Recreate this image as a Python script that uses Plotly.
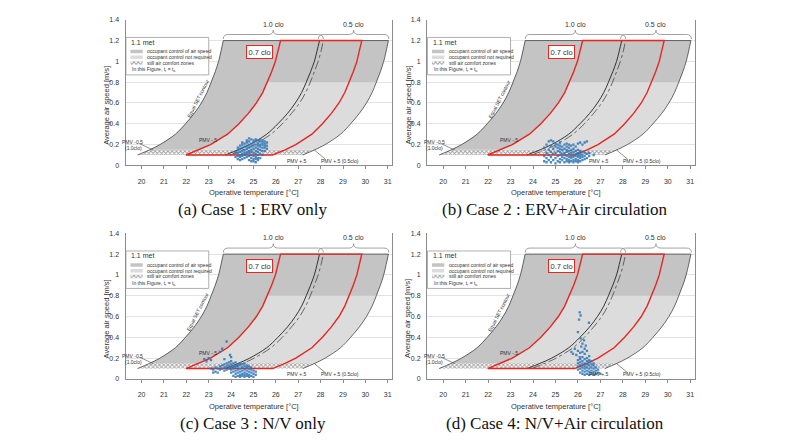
import plotly.graph_objects as go

# air speed levels (m/s) at which the comfort-zone boundaries were read
speed_levels = [0.1, 0.15, 0.2, 0.3, 0.4, 0.5, 0.6, 0.7, 0.8, 0.9, 1.0, 1.1, 1.2]

# operative temperature (C) of each boundary at those speeds
pmv_minus_05_1clo = [19.82, 20.36, 20.82, 21.51, 21.96, 22.35, 22.67, 22.92, 23.11, 23.29, 23.44, 23.55, 23.65]
clo07_lower = [21.98, 22.57, 23.08, 23.84, 24.35, 24.77, 25.13, 25.41, 25.62, 25.81, 25.98, 26.10, 26.21]
pmv_plus_05_1clo = [23.73, 24.32, 24.83, 25.59, 26.09, 26.52, 26.87, 27.15, 27.36, 27.55, 27.72, 27.84, 27.95]
pmv_plus_05_1clo_b = [23.95, 24.53, 25.03, 25.78, 26.29, 26.70, 27.06, 27.33, 27.54, 27.72, 27.89, 28.02, 28.12]
clo07_upper = [25.85, 26.41, 26.89, 27.61, 28.08, 28.48, 28.82, 29.08, 29.28, 29.46, 29.62, 29.74, 29.84]
pmv_plus_05_05clo = [27.20, 27.74, 28.20, 28.89, 29.34, 29.73, 30.05, 30.30, 30.49, 30.67, 30.82, 30.93, 31.03]

still_air_limit = 0.15
control_limit = 0.8

clo_names = ["1.0 clo", "0.5 clo"]
clo_starts = [23.65, 27.90]
clo_ends = [28.12, 31.05]

temp_ticks = list(range(20, 32))

case1_points = [
    (24.2, 0.08), (24.2, 0.11), (24.2, 0.13),
    (24.3, 0.06), (24.3, 0.09), (24.3, 0.12), (24.3, 0.15), (24.3, 0.17),
    (24.4, 0.05), (24.4, 0.08), (24.4, 0.10), (24.4, 0.13), (24.4, 0.16), (24.4, 0.19),
    (24.5, 0.06), (24.5, 0.09), (24.5, 0.11), (24.5, 0.14), (24.5, 0.17), (24.5, 0.20), (24.5, 0.22),
    (24.6, 0.07), (24.6, 0.10), (24.6, 0.12), (24.6, 0.15), (24.6, 0.18), (24.6, 0.21),
    (24.7, 0.08), (24.7, 0.11), (24.7, 0.13), (24.7, 0.16), (24.7, 0.19), (24.7, 0.22), (24.7, 0.24),
    (24.8, 0.05), (24.8, 0.09), (24.8, 0.12), (24.8, 0.14), (24.8, 0.17), (24.8, 0.20), (24.8, 0.23), (24.8, 0.26),
    (24.9, 0.04), (24.9, 0.07), (24.9, 0.10), (24.9, 0.13), (24.9, 0.15), (24.9, 0.18), (24.9, 0.21), (24.9, 0.25),
    (25.0, 0.04), (25.0, 0.06), (25.0, 0.09), (25.0, 0.12), (25.0, 0.16), (25.0, 0.19), (25.0, 0.22), (25.0, 0.24),
    (25.1, 0.03), (25.1, 0.06), (25.1, 0.08), (25.1, 0.11), (25.1, 0.14), (25.1, 0.17), (25.1, 0.20), (25.1, 0.23), (25.1, 0.25),
    (25.2, 0.05), (25.2, 0.07), (25.2, 0.10), (25.2, 0.13), (25.2, 0.16), (25.2, 0.19), (25.2, 0.21), (25.2, 0.24),
    (25.3, 0.07), (25.3, 0.11), (25.3, 0.15), (25.3, 0.18), (25.3, 0.20), (25.3, 0.23), (25.3, 0.25),
    (25.4, 0.10), (25.4, 0.14), (25.4, 0.17), (25.4, 0.20), (25.4, 0.22), (25.4, 0.24),
    (25.5, 0.14), (25.5, 0.17), (25.5, 0.19), (25.5, 0.21), (25.5, 0.23),
    (25.6, 0.16), (25.6, 0.19), (25.6, 0.22),
]

case2_points = [
    (24.5, 0.04), (24.5, 0.09), (24.5, 0.17),
    (24.6, 0.03), (24.6, 0.07), (24.6, 0.12), (24.6, 0.20),
    (24.7, 0.05), (24.7, 0.10), (24.7, 0.15), (24.7, 0.23),
    (24.8, 0.03), (24.8, 0.08), (24.8, 0.13), (24.8, 0.19), (24.8, 0.24),
    (24.9, 0.05), (24.9, 0.11), (24.9, 0.16), (24.9, 0.23),
    (25.0, 0.02), (25.0, 0.07), (25.0, 0.12), (25.0, 0.18), (25.0, 0.21),
    (25.1, 0.04), (25.1, 0.09), (25.1, 0.14), (25.1, 0.17), (25.1, 0.20),
    (25.2, 0.03), (25.2, 0.06), (25.2, 0.10), (25.2, 0.13), (25.2, 0.16), (25.2, 0.19), (25.2, 0.22),
    (25.3, 0.05), (25.3, 0.08), (25.3, 0.11), (25.3, 0.15), (25.3, 0.18),
    (25.4, 0.03), (25.4, 0.07), (25.4, 0.10), (25.4, 0.12), (25.4, 0.16), (25.4, 0.20),
    (25.5, 0.04), (25.5, 0.06), (25.5, 0.09), (25.5, 0.13), (25.5, 0.15), (25.5, 0.18), (25.5, 0.21),
    (25.6, 0.03), (25.6, 0.05), (25.6, 0.08), (25.6, 0.11), (25.6, 0.14), (25.6, 0.17), (25.6, 0.20),
    (25.7, 0.04), (25.7, 0.07), (25.7, 0.09), (25.7, 0.12), (25.7, 0.15), (25.7, 0.19),
    (25.8, 0.03), (25.8, 0.05), (25.8, 0.08), (25.8, 0.10), (25.8, 0.13), (25.8, 0.16), (25.8, 0.20),
    (25.9, 0.04), (25.9, 0.06), (25.9, 0.09), (25.9, 0.11), (25.9, 0.14), (25.9, 0.18),
    (26.0, 0.03), (26.0, 0.05), (26.0, 0.08), (26.0, 0.10), (26.0, 0.12), (26.0, 0.15), (26.0, 0.21),
    (26.1, 0.04), (26.1, 0.07), (26.1, 0.09), (26.1, 0.11), (26.1, 0.14), (26.1, 0.22),
    (26.2, 0.05), (26.2, 0.08), (26.2, 0.10), (26.2, 0.13), (26.2, 0.20),
    (26.3, 0.06), (26.3, 0.09), (26.3, 0.12), (26.3, 0.22),
    (26.4, 0.07), (26.4, 0.11), (26.4, 0.23),
    (26.5, 0.09), (26.5, 0.12),
    (26.7, 0.10),
]

case3_points = [
    (22.8, 0.19), (22.9, 0.17), (23.0, 0.20), (23.1, 0.18),
    (23.5, 0.26), (23.6, 0.29), (23.8, 0.36), (23.7, 0.19), (23.95, 0.23), (24.0, 0.21),
    (23.1, 0.10), (23.2, 0.09), (23.2, 0.06), (23.3, 0.11), (23.3, 0.07), (23.4, 0.10), (23.4, 0.06),
    (23.5, 0.09), (23.5, 0.12), (23.6, 0.10), (23.6, 0.13),
    (23.7, 0.08), (23.7, 0.11), (23.7, 0.14),
    (23.8, 0.09), (23.8, 0.12), (23.8, 0.15),
    (23.9, 0.10), (23.9, 0.13), (23.9, 0.16),
    (24.0, 0.06), (24.0, 0.09), (24.0, 0.11), (24.0, 0.14), (24.0, 0.17),
    (24.1, 0.03), (24.1, 0.07), (24.1, 0.10), (24.1, 0.12), (24.1, 0.15),
    (24.2, 0.02), (24.2, 0.05), (24.2, 0.08), (24.2, 0.11), (24.2, 0.13), (24.2, 0.16),
    (24.3, 0.03), (24.3, 0.06), (24.3, 0.09), (24.3, 0.12), (24.3, 0.14),
    (24.4, 0.02), (24.4, 0.04), (24.4, 0.07), (24.4, 0.10), (24.4, 0.13), (24.4, 0.15),
    (24.5, 0.03), (24.5, 0.05), (24.5, 0.08), (24.5, 0.11), (24.5, 0.14),
    (24.6, 0.02), (24.6, 0.04), (24.6, 0.06), (24.6, 0.09), (24.6, 0.12), (24.6, 0.15),
    (24.7, 0.03), (24.7, 0.05), (24.7, 0.08), (24.7, 0.11), (24.7, 0.13),
    (24.8, 0.02), (24.8, 0.04), (24.8, 0.07), (24.8, 0.10), (24.8, 0.12),
    (24.9, 0.03), (24.9, 0.06), (24.9, 0.09), (24.9, 0.11),
    (25.0, 0.02), (25.0, 0.05), (25.0, 0.08),
    (25.1, 0.04), (25.1, 0.07),
]

case4_points = [
    (26.08, 0.64), (26.12, 0.61), (26.05, 0.57), (26.49, 0.54), (26.0, 0.45), (26.12, 0.39), (26.27, 0.37),
    (26.2, 0.34), (26.35, 0.32), (26.3, 0.29), (26.15, 0.31),
    (25.71, 0.26), (25.86, 0.29), (25.78, 0.24), (25.93, 0.23), (26.08, 0.21),
    (26.0, 0.27), (26.1, 0.25), (26.2, 0.26), (26.3, 0.24), (26.4, 0.27), (26.5, 0.22),
    (26.0, 0.09), (26.0, 0.12), (26.0, 0.15), (26.0, 0.18),
    (26.1, 0.06), (26.1, 0.10), (26.1, 0.13), (26.1, 0.16), (26.1, 0.19),
    (26.2, 0.05), (26.2, 0.08), (26.2, 0.11), (26.2, 0.14), (26.2, 0.17), (26.2, 0.21),
    (26.3, 0.04), (26.3, 0.07), (26.3, 0.10), (26.3, 0.12), (26.3, 0.15), (26.3, 0.19),
    (26.4, 0.05), (26.4, 0.08), (26.4, 0.11), (26.4, 0.14), (26.4, 0.17), (26.4, 0.20),
    (26.5, 0.04), (26.5, 0.07), (26.5, 0.10), (26.5, 0.13), (26.5, 0.16), (26.5, 0.18),
    (26.6, 0.05), (26.6, 0.08), (26.6, 0.11), (26.6, 0.14), (26.6, 0.17),
    (26.7, 0.04), (26.7, 0.07), (26.7, 0.10), (26.7, 0.13), (26.7, 0.15),
    (26.8, 0.05), (26.8, 0.08), (26.8, 0.11),
    (26.9, 0.06), (26.9, 0.09),
    (27.0, 0.05),
]

captions = ["(a) Case 1 : ERV only", "(b) Case 2 : ERV+Air circulation",
            "(c) Case 3 : N/V only", "(d) Case 4: N/V+Air circulation"]
cases = [case1_points, case2_points, case3_points, case4_points]

# ---- styling / layout
SANS = "Liberation Sans, Arial, sans-serif"
SERIF = "Liberation Serif, Times New Roman, serif"
DARK = "#c4c4c4"
LIGHT = "#dcdcdc"
RED = "#e8251f"
BLUE = "#2f75b5"
HATCH = dict(shape="x", fgcolor="#444444", bgcolor="white", size=3, solidity=0.55)
W, H = 800, 440
col_px = [(125.5, 392), (427, 694.5)]
row_px = [(16, 164), (233, 381)]
xr = [19.28, 31.19]

fig = go.Figure()
i15 = speed_levels.index(still_air_limit)
i80 = speed_levels.index(control_limit)
A, B, C, D, E, F = (pmv_minus_05_1clo, clo07_lower, pmv_plus_05_1clo,
                    pmv_plus_05_1clo_b, clo07_upper, pmv_plus_05_05clo)
S = speed_levels


def brace(x0, x1, yb=1.215, ym=1.258, yt=1.30, dx=0.22):
    xm = (x0 + x1) / 2
    return (f"M{x0},{yb} Q{x0},{ym} {x0 + dx},{ym} L{xm - dx},{ym} "
            f"Q{xm},{ym} {xm},{yt} Q{xm},{ym} {xm + dx},{ym} "
            f"L{x1 - dx},{ym} Q{x1},{ym} {x1},{yb}")


def note(xa, ya, x, y, text, size=5, **kw):
    d = dict(xref=xa, yref=ya, x=x, y=y, text=text, showarrow=False,
             font=dict(size=size, color="#333"))
    d.update(kw)
    return d


shapes = []
annotations = []

for n in range(4):
    r, c = divmod(n, 2)
    sfx = "" if n == 0 else str(n + 1)
    xa, ya = "x" + sfx, "y" + sfx
    common = dict(xaxis=xa, yaxis=ya, showlegend=False, hoverinfo="skip")

    # light zone (no occupant control)
    fig.add_trace(go.Scatter(
        x=A[i15:] + F[i15:][::-1], y=S[i15:] + S[i15:][::-1],
        fill="toself", fillcolor=LIGHT, line=dict(width=0), mode="lines", **common))
    # dark zone (occupant control of air speed)
    fig.add_trace(go.Scatter(
        x=A[i15:] + F[i80:][::-1] + B[i15:i80 + 1][::-1],
        y=S[i15:] + S[i80:][::-1] + S[i15:i80 + 1][::-1],
        fill="toself", fillcolor=DARK, line=dict(width=0), mode="lines", **common))
    # still air zone
    fig.add_trace(go.Scatter(
        x=[A[0], A[i15], F[i15], F[0]], y=[S[0], S[i15], S[i15], S[0]],
        fill="toself", fillcolor="white", mode="lines", line=dict(width=0),
        fillpattern=HATCH, **common))
    # boundaries
    for xs, col, wd, dash in [(A, "#444", 0.8, "solid"), (F, "#444", 0.8, "solid"),
                              (C, "#222", 0.9, "solid"), (D, "#333", 0.7, "dashdot")]:
        fig.add_trace(go.Scatter(x=xs, y=S, mode="lines",
                                 line=dict(color=col, width=wd, dash=dash, shape="spline"), **common))
    fig.add_trace(go.Scatter(x=[A[-1], F[-1]], y=[S[-1], S[-1]], mode="lines",
                             line=dict(color="#444", width=0.8), **common))
    # 0.7 clo zone
    fig.add_trace(go.Scatter(x=B + E[::-1] + [B[0]], y=S + S[::-1] + [S[0]], mode="lines",
                             line=dict(color=RED, width=1.4), **common))
    # measurements
    pts = cases[n]
    fig.add_trace(go.Scatter(x=[p[0] for p in pts], y=[p[1] for p in pts], mode="markers",
                             marker=dict(symbol="square", size=2.3, color=BLUE, opacity=0.85,
                                         line=dict(width=0)), **common))

    # legend box
    shapes.append(dict(type="rect", xref=xa, yref=ya, x0=19.3, x1=23.0, y0=0.87, y1=1.23,
                       fillcolor="white", line=dict(color="#9a9a9a", width=0.8), layer="between"))
    rows_y = [1.095, 1.04, 0.985]
    for ry, colr in zip(rows_y[:2], [DARK, LIGHT]):
        shapes.append(dict(type="rect", xref=xa, yref=ya, x0=19.5, x1=20.05, y0=ry - 0.017,
                           y1=ry + 0.017, fillcolor=colr, line=dict(width=0), layer="above"))
    fig.add_trace(go.Scatter(
        x=[19.5, 19.5, 20.05, 20.05], y=[rows_y[2] - 0.017, rows_y[2] + 0.017,
                                         rows_y[2] + 0.017, rows_y[2] - 0.017],
        fill="toself", fillcolor="white", mode="lines", line=dict(width=0),
        fillpattern=HATCH, **common))
    annotations.append(note(xa, ya, 19.45, 1.185, "1.1 met", size=7, xanchor="left"))
    for ry, txt in zip(rows_y, ["occupant control of air speed", "occupant control not required",
                                "still air comfort zones"]):
        annotations.append(note(xa, ya, 20.15, ry, txt, xanchor="left"))
    annotations.append(note(xa, ya, 19.5, 0.918,
                            "In this Figure, t<sub>r</sub> = t<sub>a</sub>", xanchor="left"))

    # clo braces
    for name, x0, x1 in zip(clo_names, clo_starts, clo_ends):
        shapes.append(dict(type="path", xref=xa, yref=ya, path=brace(x0, x1),
                           line=dict(color="#8a8a8a", width=0.8)))
        annotations.append(note(xa, ya, (x0 + x1) / 2, 1.355, name, size=7))

    annotations.append(note(xa, ya, 25.29, 1.09, "0.7 clo", size=7.5, bgcolor="white",
                            bordercolor=RED, borderwidth=1, borderpad=1.5))
    annotations.append(note(xa, ya, 22.5, 0.64, "Equal SET contour", textangle=-63))
    for tx, ty, txt in [(19.6, 0.222, "PMV -0.5"), (19.62, 0.165, "(1.0clo)"),
                        (22.95, 0.245, "PMV -.5"), (26.95, 0.045, "PMV +.5"),
                        (28.85, 0.045, "PMV +.5 (0.5clo)")]:
        annotations.append(note(xa, ya, tx, ty, txt))
    for x0, y0, x1, y1 in [(19.9, 0.21, 20.52, 0.147), (27.72, 0.148, 28.2, 0.062)]:
        shapes.append(dict(type="line", xref=xa, yref=ya, x0=x0, y0=y0, x1=x1, y1=y1,
                           line=dict(color="#444", width=0.6)))

    # axes
    px0, px1 = col_px[c]
    py0, py1 = row_px[r]
    fig.layout["xaxis" + sfx] = dict(
        domain=[px0 / W, px1 / W], range=xr, anchor=ya, tickvals=temp_ticks,
        showline=True, linecolor="#8c8c8c", linewidth=1, ticks="outside", ticklen=3,
        tickcolor="#8c8c8c", tickfont=dict(size=7, color="#333"), showgrid=False,
        zeroline=False, ticklabelstandoff=6, fixedrange=True)
    fig.layout["yaxis" + sfx] = dict(
        domain=[1 - py1 / H, 1 - py0 / H], range=[0, 1.4], anchor=xa, dtick=0.2,
        showgrid=True, gridcolor="#e3e3e3", gridwidth=1, showline=True, mirror=True,
        linecolor="#8c8c8c", linewidth=1, ticks="",
        tickfont=dict(size=7, color="#333"), zeroline=False, ticklabelstandoff=4)

    # axis titles and caption
    cx = (px0 + px1) / 2
    annotations.append(dict(xref="paper", yref="paper", x=(cx - 5) / W, y=1 - (py1 + 28) / H,
                            xanchor="center", yanchor="middle",
                            text="Operative temperature [°C]", showarrow=False,
                            font=dict(size=7.5, color="#333")))
    annotations.append(dict(xref="paper", yref="paper", x=(px0 - 19) / W,
                            y=1 - (py0 + 87) / H, xanchor="center", yanchor="middle",
                            text="Average air speed [m/s]",
                            textangle=-90, showarrow=False, font=dict(size=7.5, color="#333")))
    annotations.append(dict(xref="paper", yref="paper", x=(cx - 6) / W, y=1 - (py1 + 45) / H,
                            xanchor="center", yanchor="middle",
                            text=captions[n], showarrow=False,
                            font=dict(family=SERIF, size=17, color="#111")))

fig.update_layout(width=W, height=H, margin=dict(l=0, r=0, t=0, b=0),
                  paper_bgcolor="white", plot_bgcolor="white", showlegend=False,
                  font=dict(family=SANS), shapes=shapes, annotations=annotations)

fig.write_html("out.html", config={"displayModeBar": False},
               post_script="document.body.style.margin='0px';")
